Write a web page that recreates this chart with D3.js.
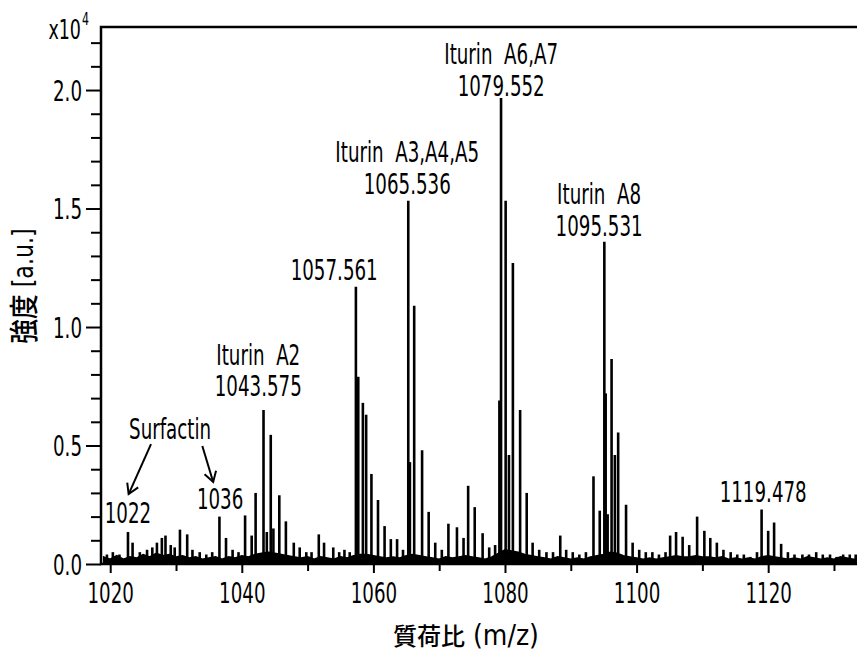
<html>
<head>
<meta charset="utf-8">
<script src="https://d3js.org/d3.v7.min.js"></script>
<style>body{margin:0;background:#fff}</style>
</head>
<body>
<div id="chart"></div>
<script>

// peaks: m/z and intensity (x10^4 a.u.)
var peakMz = [1019.5, 1020.4, 1021.4, 1022.7, 1023.4, 1024.5, 1025.6, 1026.4, 1027.1, 1027.85,
  1028.4, 1029.2, 1029.8, 1030.6, 1031.7, 1032.5, 1033.6, 1034.6, 1035.5, 1036.6,
  1037.6, 1038.6, 1039.5, 1040.5, 1041.5, 1042.1, 1043.3, 1043.8, 1044.4, 1044.8,
  1045.7, 1046.7, 1047.9, 1048.8, 1049.8, 1050.6, 1051.7, 1052.5, 1053.9, 1054.8,
  1055.6, 1056.4, 1057.34, 1057.7, 1058.4, 1058.9, 1059.7, 1060.7, 1061.7, 1062.65,
  1063.6, 1064.5, 1065.3, 1065.55, 1066.2, 1067.4, 1068.4, 1069.4, 1070.4, 1071.4,
  1072.7, 1073.7, 1074.4, 1075.4, 1076.6, 1077.6, 1078.5, 1079.15, 1079.4, 1080.1,
  1080.6, 1081.2, 1082.3, 1083.3, 1084.2, 1085.2, 1086.3, 1087.3, 1088.4, 1089.3,
  1090.3, 1091.3, 1092.3, 1093.45, 1094.4, 1095.1, 1095.3, 1095.6, 1096.2, 1096.7,
  1097.2, 1098.4, 1099.4, 1100.4, 1101.4, 1102.4, 1103.4, 1104.4, 1105.1, 1106.0,
  1107.0, 1108.0, 1109.2, 1110.3, 1111.2, 1112.2, 1113.2, 1114.3, 1115.3, 1116.3,
  1117.3, 1118.3, 1119.0, 1120.0, 1120.9, 1121.97, 1123.0, 1124.0, 1125.2, 1126.2,
  1127.3, 1128.3, 1129.4, 1130.4, 1131.4, 1132.4, 1133.3];
var peakInt = [0.04, 0.05, 0.04, 0.135, 0.09, 0.05, 0.06, 0.07, 0.09, 0.11,
  0.12, 0.08, 0.07, 0.145, 0.125, 0.06, 0.05, 0.04, 0.05, 0.2,
  0.11, 0.06, 0.05, 0.205, 0.12, 0.3, 0.65, 0.135, 0.545, 0.15,
  0.29, 0.18, 0.09, 0.07, 0.05, 0.05, 0.125, 0.09, 0.07, 0.05,
  0.06, 0.05, 1.17, 0.79, 0.68, 0.63, 0.38, 0.27, 0.16, 0.105,
  0.105, 0.06, 1.533, 0.43, 1.09, 0.48, 0.22, 0.09, 0.06, 0.17,
  0.155, 0.11, 0.33, 0.24, 0.13, 0.07, 0.08, 0.69, 1.966, 1.533,
  0.46, 1.27, 0.65, 0.3, 0.09, 0.06, 0.05, 0.05, 0.12, 0.06,
  0.05, 0.04, 0.05, 0.37, 0.225, 1.36, 0.72, 0.21, 0.865, 0.46,
  0.555, 0.25, 0.09, 0.06, 0.05, 0.05, 0.04, 0.05, 0.12, 0.135,
  0.115, 0.08, 0.2, 0.14, 0.11, 0.09, 0.06, 0.05, 0.04, 0.04,
  0.03, 0.05, 0.23, 0.14, 0.175, 0.085, 0.05, 0.04, 0.04, 0.04,
  0.05, 0.04, 0.04, 0.03, 0.04, 0.04, 0.04];

// baseline noise, one value per m/z unit starting at 1019
var noiseStart = 1019;
var noiseInt = [0.03, 0.02, 0.035, 0.02, 0.03, 0.025, 0.04, 0.03, 0.045, 0.035,
  0.04, 0.03, 0.035, 0.025, 0.03, 0.02, 0.025, 0.03, 0.02, 0.03,
  0.025, 0.035, 0.03, 0.04, 0.045, 0.05, 0.045, 0.04, 0.035, 0.03,
  0.025, 0.03, 0.02, 0.03, 0.025, 0.02, 0.03, 0.025, 0.035, 0.04,
  0.04, 0.035, 0.03, 0.025, 0.03, 0.025, 0.035, 0.04, 0.035, 0.03,
  0.025, 0.02, 0.03, 0.025, 0.03, 0.035, 0.03, 0.025, 0.02, 0.03,
  0.045, 0.06, 0.055, 0.05, 0.04, 0.035, 0.03, 0.025, 0.02, 0.03,
  0.025, 0.02, 0.025, 0.02, 0.03, 0.035, 0.04, 0.05, 0.045, 0.035,
  0.03, 0.025, 0.02, 0.025, 0.02, 0.025, 0.03, 0.035, 0.03, 0.03,
  0.035, 0.03, 0.03, 0.025, 0.03, 0.02, 0.025, 0.02, 0.025, 0.02,
  0.03, 0.035, 0.03, 0.025, 0.02, 0.025, 0.02, 0.03, 0.025, 0.02,
  0.025, 0.02, 0.03, 0.025, 0.02, 0.025];

var xTicks = [1020, 1040, 1060, 1080, 1100, 1120];
var xMinor = [1030, 1050, 1070, 1090, 1110, 1130];
var yTicks = [0, 0.5, 1.0, 1.5, 2.0];
var yMinor = [0.1, 0.2, 0.3, 0.4, 0.6, 0.7, 0.8, 0.9, 1.1, 1.2, 1.3, 1.4, 1.6, 1.7, 1.8, 1.9, 2.1, 2.2];

// peak annotations: text, centre m/z, baseline intensity
var labelText = ["Iturin  A6,A7", "1079.552", "Iturin  A3,A4,A5", "1065.536", "Iturin  A8", "1095.531",
  "1057.561", "Iturin  A2", "1043.575", "1119.478", "Surfactin", "1022", "1036"];
var labelMz = [1079.42, 1079.42, 1065.14, 1065.14, 1094.3, 1094.3, 1054.04, 1042.5, 1042.5, 1119.24, 1029.1, 1022.7, 1036.7];
var labelInt = [2.11, 1.975, 1.696, 1.561, 1.519, 1.384, 1.198, 0.84, 0.709, 0.262, 0.527, 0.173, 0.232];

// surfactin arrows: start and end (m/z, intensity)
var arrowFrom = [[1026.2, 0.506], [1034.0, 0.498]];
var arrowTo = [[1022.8, 0.295], [1035.65, 0.346]];

var width = 857, height = 659;
var pLeft = 101, pTop = 27, pBottom = 564, pRight = 857;
var latin = "'Liberation Sans Narrow','DejaVu Sans Condensed','Liberation Sans',sans-serif";
var cjk = "'Noto Sans CJK JP','Noto Sans CJK SC',sans-serif";
var squeeze = "scale(0.7,1)";

var x = d3.scaleLinear().domain([1018.6, 1133.5]).range([pLeft, pRight]);
var y = d3.scaleLinear().domain([0, 2.266]).range([pBottom, pTop]);

var svg = d3.select("#chart").append("svg")
  .attr("width", width)
  .attr("height", height)
  .style("background", "#fff");

var defs = svg.append("defs");
defs.append("clipPath").attr("id", "plot")
  .append("rect").attr("x", pLeft).attr("y", pTop).attr("width", pRight - pLeft).attr("height", pBottom - pTop);

var plot = svg.append("g").attr("clip-path", "url(#plot)");

// noisy baseline band
plot.append("path")
  .datum(noiseInt.map((v, i) => [noiseStart + i, v]))
  .attr("fill", "#000")
  .attr("stroke", "#000")
  .attr("stroke-width", 1.5)
  .attr("d", d3.area().x(d => x(d[0])).y0(y(0)).y1(d => y(d[1])));

// peak sticks
plot.selectAll("line.pk")
  .data(d3.zip(peakMz, peakInt))
  .join("line")
    .attr("class", "pk")
    .attr("x1", d => x(d[0]))
    .attr("x2", d => x(d[0]))
    .attr("y1", y(0))
    .attr("y2", d => y(d[1]))
    .attr("stroke", "#000")
    .attr("stroke-width", 2.6);

// x axis (major + minor ticks)
svg.append("g").attr("transform", `translate(0,${pBottom})`)
  .call(d3.axisBottom(x).tickValues(xTicks).tickSize(9).tickPadding(9).tickFormat(d3.format("d")));
svg.append("g").attr("transform", `translate(0,${pBottom})`)
  .call(d3.axisBottom(x).tickValues(xMinor).tickSize(7).tickFormat(""));

// y axis (major + minor ticks)
var gy = svg.append("g").attr("transform", `translate(${pLeft},0)`)
  .call(d3.axisLeft(y).tickValues(yTicks).tickSize(15).tickFormat(d3.format(".1f")));
svg.append("g").attr("transform", `translate(${pLeft},0)`)
  .call(d3.axisLeft(y).tickValues(yMinor).tickSize(10).tickFormat(""));

svg.selectAll(".domain").remove();
svg.selectAll(".tick line").attr("stroke", "#000").attr("stroke-width", 2);
svg.selectAll(".tick text")
  .style("font-family", latin)
  .style("font-size", "29px")
  .attr("fill", "#000")
  .attr("transform", squeeze);
gy.selectAll(".tick text").attr("x", -19 / 0.7).attr("dy", "0.36em");

// frame: left, bottom, top
svg.append("path")
  .attr("d", `M${pRight},${pTop}H${pLeft}V${pBottom}H${pRight}`)
  .attr("fill", "none")
  .attr("stroke", "#000")
  .attr("stroke-width", 2.5);

// x10^4 exponent
svg.append("text")
  .attr("transform", "translate(81,39) scale(0.72,1)")
  .attr("text-anchor", "end")
  .style("font-family", latin).style("font-size", "27px")
  .text("x10");
svg.append("text")
  .attr("transform", "translate(82,25) scale(0.72,1)")
  .style("font-family", latin).style("font-size", "17px")
  .text("4");

// axis titles
var xt = svg.append("text")
  .attr("x", 466).attr("y", 645)
  .attr("text-anchor", "middle");
xt.append("tspan").style("font-family", cjk).style("font-size", "24px").style("font-weight", "500").text("質荷比");
xt.append("tspan").style("font-family", latin).style("font-size", "28px").text(" (m/z)");

var yt = svg.append("text")
  .attr("transform", "translate(22,286) rotate(-90) scale(0.85,1)")
  .attr("text-anchor", "middle")
  .attr("dominant-baseline", "central");
yt.append("tspan").style("font-family", cjk).style("font-size", "29px").style("font-weight", "500").text("強度");
yt.append("tspan").style("font-family", latin).style("font-size", "29px").text(" [a.u.]");

// peak annotations
svg.selectAll("text.ann")
  .data(d3.zip(labelText, labelMz, labelInt))
  .join("text")
    .attr("class", "ann")
    .attr("transform", d => `translate(${x(d[1])},${y(d[2])}) ${squeeze}`)
    .attr("text-anchor", "middle")
    .style("font-family", latin)
    .style("font-size", "29px")
    .style("white-space", "pre")
    .text(d => d[0]);

// arrows
defs.append("marker")
  .attr("id", "arrow")
  .attr("viewBox", "-12 -8 14 16")
  .attr("markerWidth", 14).attr("markerHeight", 16)
  .attr("markerUnits", "userSpaceOnUse")
  .attr("orient", "auto")
  .append("path")
    .attr("d", "M-10,-6L0,0L-10,6")
    .attr("fill", "none")
    .attr("stroke", "#000")
    .attr("stroke-width", 2);

svg.selectAll("line.arrow")
  .data(d3.zip(arrowFrom, arrowTo))
  .join("line")
    .attr("class", "arrow")
    .attr("x1", d => x(d[0][0])).attr("y1", d => y(d[0][1]))
    .attr("x2", d => x(d[1][0])).attr("y2", d => y(d[1][1]))
    .attr("stroke", "#000")
    .attr("stroke-width", 2)
    .attr("marker-end", "url(#arrow)");

</script>
</body>
</html>
